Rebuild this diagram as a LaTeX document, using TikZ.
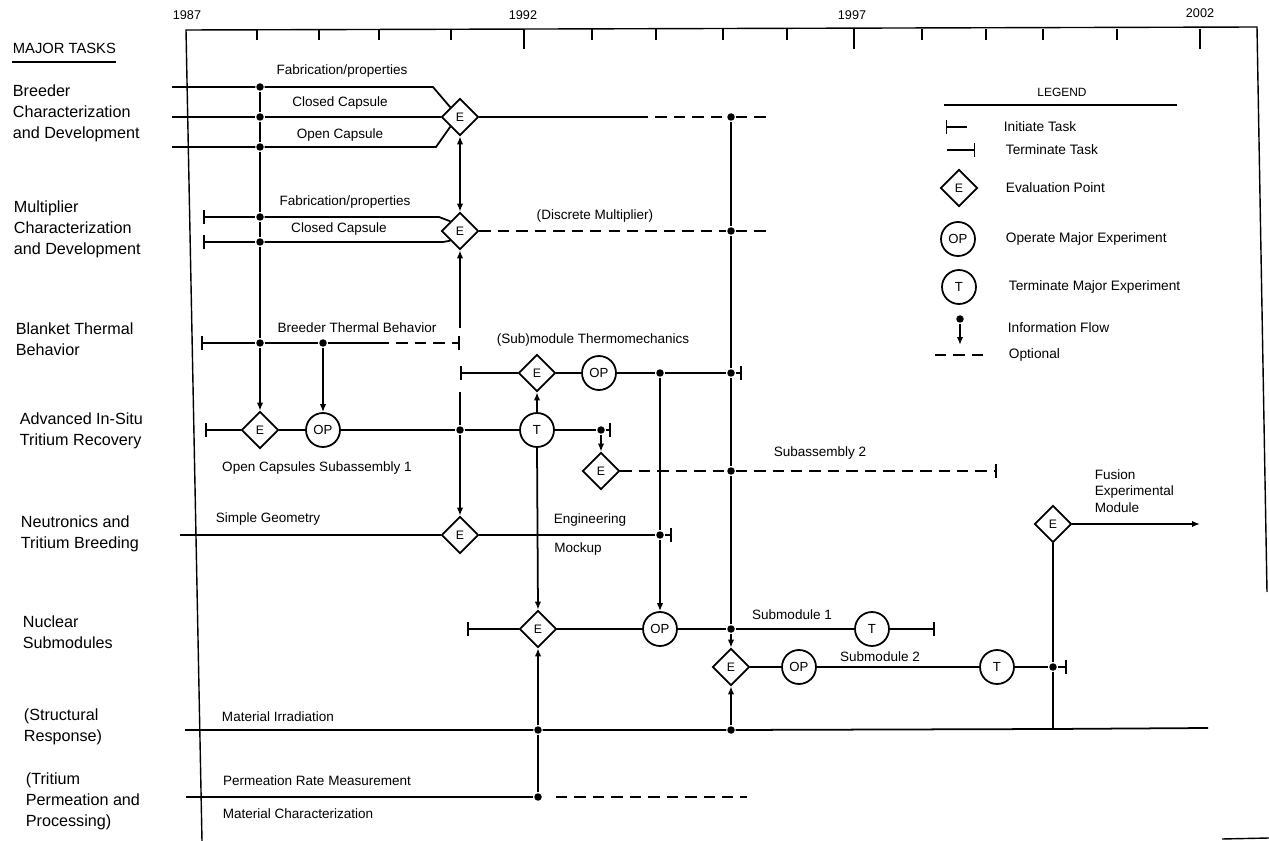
\documentclass[tikz,border=0pt]{standalone}
\usepackage{fontspec}
\setmainfont{Liberation Sans}
\usetikzlibrary{
  arrows.meta, % For arrow tips (Bar, Latex)
  shapes.geometric % For the diamond
}

\begin{document}
\begin{tikzpicture}[
      x=0.02cm, y=-0.02cm, % 1 unit = 1 pixel of the sheet
      line width=1pt, % Default line thickness
      >={Latex[length=4.5pt,width=3.6pt]}, % Default arrow tip
      evalpt/.style={diamond, draw, fill=white, inner sep=0pt, minimum size=0.74cm, font=\fontsize{7}{8}\selectfont},
      expt/.style={circle, draw, fill=white, inner sep=0pt, minimum size=0.68cm, font=\fontsize{7.5}{8}\selectfont},
      junct/.style={circle, fill, inner sep=0pt, minimum size=0.15cm},
      task/.style={anchor=west, align=left, inner sep=0pt, font=\fontsize{9.2}{12}\selectfont},
      lbl/.style={inner sep=0pt, font=\fontsize{7.7}{9.5}\selectfont},
      lgtxt/.style={anchor=west, inner sep=0pt, font=\fontsize{7.8}{9}\selectfont},
      yr/.style={inner sep=0pt, font=\fontsize{7.2}{8}\selectfont},
      opt/.style={dash pattern=on 6.5pt off 4pt},
      init/.style={arrows={Bar[width=8pt]-}},
      term/.style={arrows={-Bar[width=8pt]}},
      frame/.style={line width=0.8pt},
    ]

    \useasboundingbox (0,0) rectangle (1269,841);
    \fill[white] (0,0) rectangle (1269,841);

    % Rahmen und Zeitachse
    \coordinate (ax0) at (186,30);
    \coordinate (ax1) at (1257,27);
    \coordinate (axL) at (202,841);
    \coordinate (axR) at (1267,592);
    \draw[frame] (axL) -- (ax0) -- (ax1) -- (axR);
    \foreach \t in {257,319,379,451,592,656,723,787,922,986,1043,1117}
    \draw[frame] (\t,29) -- ++(0,11);
    \foreach \t in {524,854,1200}
    \draw[frame] (\t,29) -- ++(0,20);
    \draw[frame] (1222,839) -- (1269,838);

    \node[yr] (y87) at (187,15) {1987};
    \node[yr] (y92) at (523,15) {1992};
    \node[yr] (y97) at (852,15) {1997};
    \node[yr] (y02) at (1200,13) {2002};

    % Aufgaben (links)
    \node[task, font=\fontsize{8.4}{10}\selectfont] (hdr) at (12,48) {MAJOR TASKS};
    \draw[frame] (12,62) -- (116,62);
    \node[task] (tBreed) at (12,113) {Breeder\\Characterization\\and Development};
    \node[task] (tMult) at (13,229) {Multiplier\\Characterization\\and Development};
    \node[task] (tBlank) at (15,339) {Blanket Thermal\\Behavior};
    \node[task] (tAdv) at (19,431) {Advanced In-Situ\\Tritium Recovery};
    \node[task] (tNeut) at (20,534) {Neutronics and\\Tritium Breeding};
    \node[task] (tNucl) at (22,632) {Nuclear\\Submodules};
    \node[task] (tStruc) at (23,727) {(Structural\\Response)};
    \node[task] (tPerm) at (25,801) {(Tritium\\Permeation and\\Processing)};

    % Breeder
    \coordinate (bA0) at (172,87);
    \coordinate (bB0) at (172,117);
    \coordinate (bC0) at (172,147);
    \node[junct] (bA1) at (260,87) {};
    \node[junct] (bB1) at (260,117) {};
    \node[junct] (bC1) at (260,147) {};
    \coordinate (bA2) at (433,87);
    \coordinate (bC2) at (436,147);
    \node[evalpt] (Eb) at (460,117) {E};
    \draw (bA0) -- (bA1) -- (bA2) -- (Eb.north west);
    \draw (bB0) -- (bB1) -- (Eb.west);
    \draw (bC0) -- (bC1) -- (bC2) -- (Eb.south west);
    \coordinate (bD1) at (637,117);
    \node[junct] (vB) at (731,117) {};
    \coordinate (bD2) at (770,117);
    \draw (Eb.east) -- (bD1);
    \draw[opt] (bD1) -- (vB) -- (bD2);
    \node[lbl] (lb1) at (342,71) {Fabrication/properties};
    \node[lbl] (lb2) at (340,103) {Closed Capsule};
    \node[lbl] (lb3) at (340,135) {Open Capsule};

    % Multiplier
    \coordinate (mA0) at (203,217);
    \coordinate (mB0) at (203,242);
    \node[junct] (mA1) at (260,217) {};
    \node[junct] (mB1) at (260,242) {};
    \coordinate (mA2) at (439,217);
    \coordinate (mB2) at (443,242);
    \node[evalpt] (Em) at (460,231) {E};
    \draw[init] (mA0) -- (mA1);
    \draw (mA1) -- (mA2) -- (Em.north west);
    \draw[init] (mB0) -- (mB1);
    \draw (mB1) -- (mB2) -- (Em.south west);
    \node[junct] (vM) at (731,231) {};
    \coordinate (mD) at (770,231);
    \draw[opt] (Em.east) -- (vM) -- (mD);
    \draw[<->] (Eb.south) -- (Em.north);
    \node[lbl] (lm1) at (345,202) {Fabrication/properties};
    \node[lbl] (lm2) at (339,229) {Closed Capsule};
    \node[lbl] (lm3) at (595,216) {(Discrete Multiplier)};

    % Blanket Thermal Behavior
    \coordinate (tA0) at (201,343);
    \node[junct] (tA1) at (260,343) {};
    \node[junct] (tA2) at (323,343) {};
    \coordinate (tA3) at (378,343);
    \coordinate (tA4) at (460,343);
    \draw[init] (tA0) -- (tA1);
    \draw (tA1) -- (tA2) -- (tA3);
    \draw[opt, term] (tA3) -- (tA4);
    \node[lbl] (lt1) at (357,328) {Breeder Thermal Behavior};

    % (Sub)module Thermomechanics
    \coordinate (sA0) at (460,373);
    \node[evalpt] (Es) at (537,373) {E};
    \node[expt] (Os) at (599,373) {OP};
    \node[junct] (sA1) at (660,373) {};
    \node[junct] (sA2) at (731,373) {};
    \coordinate (sA3) at (742,373);
    \draw[init] (sA0) -- (Es);
    \draw (Es) -- (Os) -- (sA1) -- (sA2);
    \draw[term] (sA2) -- (sA3);
    \node[lbl] (ls1) at (593,340) {(Sub)module Thermomechanics};

    % Advanced In-Situ Tritium Recovery
    \coordinate (aA0) at (205,430);
    \node[evalpt] (Ea) at (260,430) {E};
    \node[expt] (Oa) at (323,430) {OP};
    \node[junct] (aA1) at (460,430) {};
    \node[expt] (Ta) at (537,430) {T};
    \node[junct] (aA2) at (601,430) {};
    \coordinate (aA3) at (611,430);
    \draw[init] (aA0) -- (Ea);
    \draw (Ea) -- (Oa) -- (aA1) -- (Ta) -- (aA2);
    \draw[term] (aA2) -- (aA3);
    \node[lbl] (la1) at (317,468) {Open Capsules Subassembly 1};

    % Subassembly 2
    \node[evalpt] (Eu) at (601,471) {E};
    \node[junct] (uA1) at (731,471) {};
    \coordinate (uA2) at (997,471);
    \draw[opt] (Eu.east) -- (uA1);
    \draw[opt, term] (uA1) -- (uA2);
    \node[lbl] (lu1) at (820,453) {Subassembly 2};

    % Neutronics and Tritium Breeding
    \coordinate (nA0) at (180,535);
    \node[evalpt] (En) at (460,535) {E};
    \node[junct] (nA1) at (660,535) {};
    \coordinate (nA2) at (672,535);
    \draw (nA0) -- (En) -- (nA1);
    \draw[term] (nA1) -- (nA2);
    \node[lbl] (ln1) at (268,519) {Simple Geometry};
    \node[lbl] (ln2) at (590,520) {Engineering};
    \node[lbl] (ln3) at (578,549) {Mockup};

    % Nuclear Submodules
    \coordinate (kA0) at (467,629);
    \node[evalpt] (Ek1) at (538,629) {E};
    \node[expt] (Ok1) at (660,629) {OP};
    \node[junct] (kA1) at (731,629) {};
    \node[expt] (Tk1) at (872,629) {T};
    \coordinate (kA2) at (935,629);
    \draw[init] (kA0) -- (Ek1);
    \draw (Ek1) -- (Ok1) -- (kA1) -- (Tk1);
    \draw[term] (Tk1) -- (kA2);
    \node[lbl] (lk1) at (792,615) {Submodule 1};
    \node[evalpt] (Ek2) at (731,667) {E};
    \node[expt] (Ok2) at (799,667) {OP};
    \node[expt] (Tk2) at (997,667) {T};
    \node[junct] (kB1) at (1053,667) {};
    \coordinate (kB2) at (1067,667);
    \draw (Ek2) -- (Ok2) -- (Tk2) -- (kB1);
    \draw[term] (kB1) -- (kB2);
    \node[lbl] (lk2) at (880,657) {Submodule 2};

    % Fusion Experimental Module
    \node[evalpt] (Ef) at (1053,524) {E};
    \coordinate (fA1) at (1200,524);
    \draw[->] (Ef.east) -- (fA1);
    \node[lbl, anchor=west, align=left] (lf1) at (1094,491) {Fusion\\Experimental\\Module};

    % (Structural Response)
    \coordinate (rA0) at (185,730);
    \node[junct] (rA1) at (538,730) {};
    \node[junct] (rA2) at (731,730) {};
    \coordinate (rA3) at (1053,729);
    \coordinate (rA4) at (1208,728);
    \draw (rA0) -- (rA1) -- (rA2) -- (rA3) -- (rA4);
    \node[lbl] (lr1) at (278,717) {Material Irradiation};

    % (Tritium Permeation and Processing)
    \coordinate (pA0) at (186,797);
    \node[junct] (pA1) at (538,797) {};
    \coordinate (pA2) at (556,797);
    \coordinate (pA3) at (747,797);
    \draw (pA0) -- (pA1);
    \draw[opt] (pA2) -- (pA3);
    \node[lbl] (lp1) at (317,781) {Permeation Rate Measurement};
    \node[lbl] (lp2) at (298,814) {Material Characterization};

    % Informationsfluss
    \draw (bA1) -- (bB1) -- (bC1) -- (mA1) -- (mB1) -- (tA1);
    \draw[->] (tA1) -- (Ea.north);
    \draw[->] (tA2) -- (Oa.north);
    \coordinate (gHi) at (460,328);
    \coordinate (gLo) at (460,392);
    \draw[->] (gHi) -- (Em.south);
    \draw (aA1) -- (gLo);
    \draw[->] (aA1) -- (En.north);
    \draw[->] (Ta.north) -- (Es.south);
    \draw[->] (Ta.south) -- (Ek1.north);
    \draw[->] (aA2) -- (Eu.north);
    \draw (sA1) -- (nA1);
    \draw[->] (nA1) -- (Ok1.north);
    \draw (vB) -- (vM) -- (sA2) -- (uA1) -- (kA1);
    \draw[->] (kA1) -- (Ek2.north);
    \draw[->] (rA1) -- (Ek1.south);
    \draw[->] (rA2) -- (Ek2.south);
    \draw (rA1) -- (pA1);
    \draw (Ef.south) -- (kB1) -- (rA3);

    % Legende
    \node[inner sep=0pt, font=\fontsize{6.8}{8}\selectfont] (lgH) at (1062,92) {LEGEND};
    \draw[frame] (944,105) -- (1177,105);
    \coordinate (lg1a) at (946,127);
    \coordinate (lg1b) at (967,127);
    \draw[init, frame] (lg1a) -- (lg1b);
    \node[lgtxt] (lgT1) at (1003,127) {Initiate Task};
    \coordinate (lg2a) at (947,150);
    \coordinate (lg2b) at (975,150);
    \draw[term, frame] (lg2a) -- (lg2b);
    \node[lgtxt] (lgT2) at (1005,150) {Terminate Task};
    \node[evalpt] (lgE) at (959,188) {E};
    \node[lgtxt] (lgT3) at (1005,188) {Evaluation Point};
    \node[expt] (lgO) at (958,239) {OP};
    \node[lgtxt] (lgT4) at (1005,239) {Operate Major Experiment};
    \node[expt] (lgT) at (959,287) {T};
    \node[lgtxt] (lgT5) at (1008,287) {Terminate Major Experiment};
    \node[junct] (lgF) at (960,319) {};
    \coordinate (lgFb) at (960,345);
    \draw[->] (lgF) -- (lgFb);
    \node[lgtxt] (lgT6) at (1007,328) {Information Flow};
    \coordinate (lg7a) at (935,355);
    \coordinate (lg7b) at (990,355);
    \draw[opt] (lg7a) -- (lg7b);
    \node[lgtxt] (lgT7) at (1008,355) {Optional};
  \end{tikzpicture}
\end{document}
